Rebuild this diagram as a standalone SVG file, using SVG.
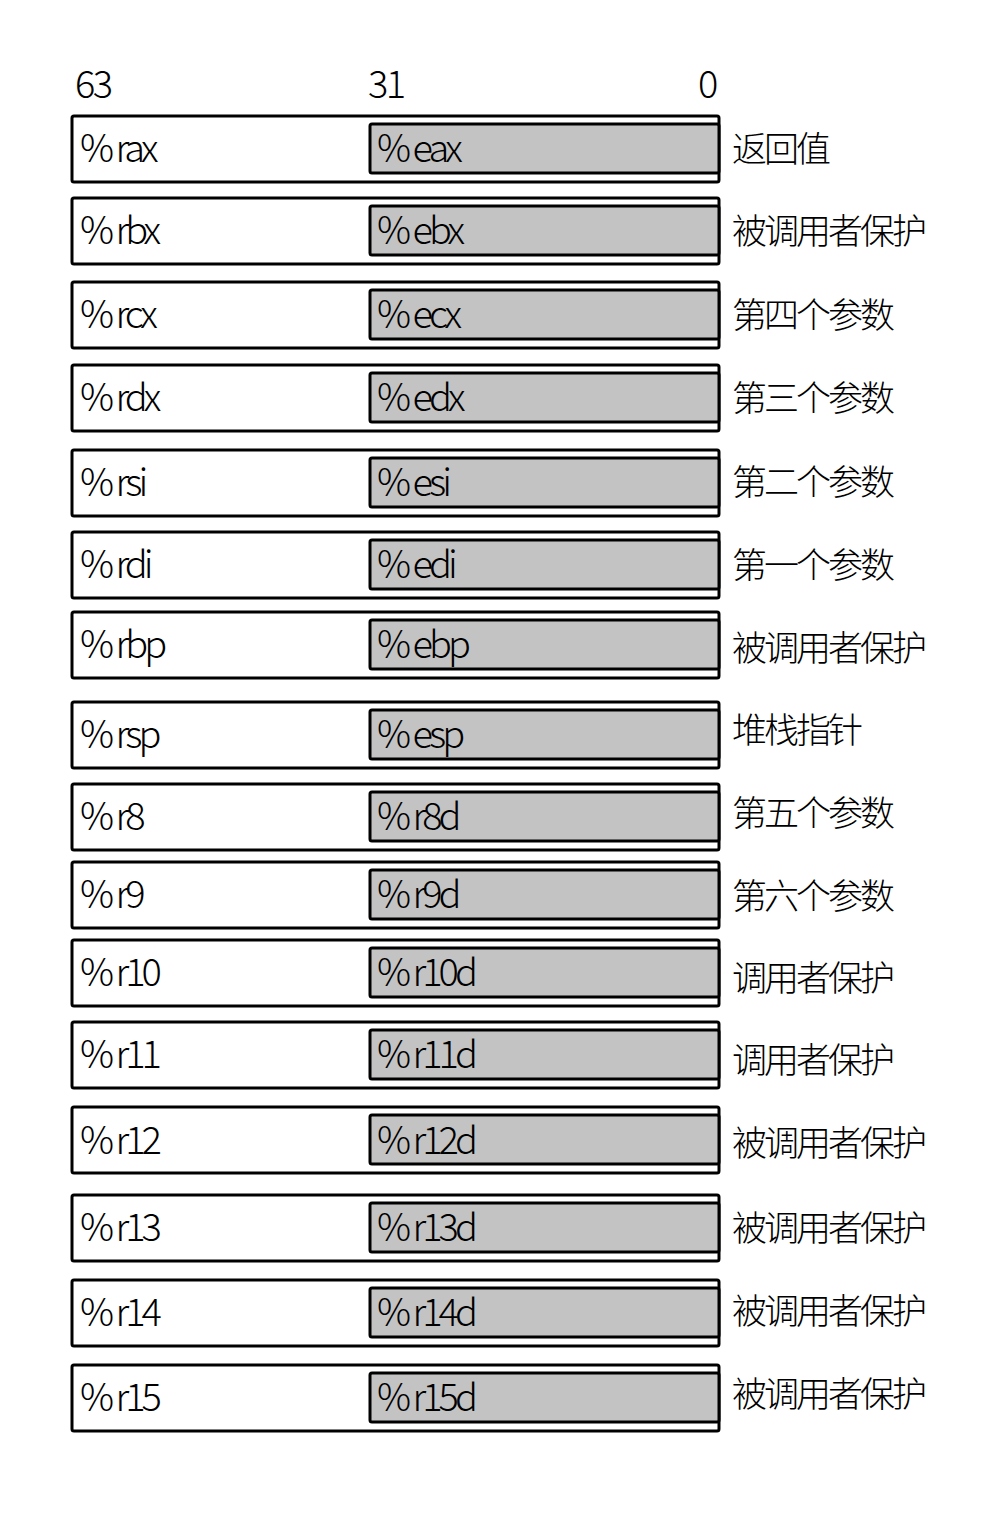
<svg xmlns="http://www.w3.org/2000/svg" width="1004" height="1520" viewBox="0 0 1004 1520">
<style>
.outer{fill:#ffffff;stroke:#000;stroke-width:3;}
.inner{fill:#c3c3c3;stroke:#000;stroke-width:3;}
.t{font-family:"Noto Sans CJK SC","Liberation Sans",sans-serif;font-size:38px;font-weight:300;fill:#000;letter-spacing:-4px;}
.p{letter-spacing:1.5px;}
.n{font-family:"Noto Sans CJK SC","Liberation Sans",sans-serif;font-size:38px;font-weight:300;fill:#000;letter-spacing:-2.5px;}
.c{font-family:"Noto Sans CJK SC","Noto Sans CJK JP",sans-serif;font-size:35px;font-weight:300;fill:#000;letter-spacing:-3px;}
</style>
<rect width="1004" height="1520" fill="#fff"/>
<g id="bits">
<text class="n" x="75" y="98">63</text>
<text class="n" x="368" y="98">31</text>
<text class="n" x="698" y="98">0</text>
</g>
<g id="rax"><rect class="outer" x="72" y="116" width="647" height="66" rx="2"/><rect class="inner" x="370" y="124" width="349" height="49" rx="2"/><text class="t" x="80" y="162"><tspan class="p">%</tspan>rax</text><text class="t" x="377" y="162"><tspan class="p">%</tspan>eax</text><text class="c" x="732" y="162">返回值</text></g>
<g id="rbx"><rect class="outer" x="72" y="198" width="647" height="66" rx="2"/><rect class="inner" x="370" y="206" width="349" height="49" rx="2"/><text class="t" x="80" y="244"><tspan class="p">%</tspan>rbx</text><text class="t" x="377" y="244"><tspan class="p">%</tspan>ebx</text><text class="c" x="732" y="244">被调用者保护</text></g>
<g id="rcx"><rect class="outer" x="72" y="282" width="647" height="66" rx="2"/><rect class="inner" x="370" y="290" width="349" height="49" rx="2"/><text class="t" x="80" y="328"><tspan class="p">%</tspan>rcx</text><text class="t" x="377" y="328"><tspan class="p">%</tspan>ecx</text><text class="c" x="732" y="328">第四个参数</text></g>
<g id="rdx"><rect class="outer" x="72" y="365" width="647" height="66" rx="2"/><rect class="inner" x="370" y="373" width="349" height="49" rx="2"/><text class="t" x="80" y="411"><tspan class="p">%</tspan>rdx</text><text class="t" x="377" y="411"><tspan class="p">%</tspan>edx</text><text class="c" x="732" y="411">第三个参数</text></g>
<g id="rsi"><rect class="outer" x="72" y="450" width="647" height="66" rx="2"/><rect class="inner" x="370" y="458" width="349" height="49" rx="2"/><text class="t" x="80" y="496"><tspan class="p">%</tspan>rsi</text><text class="t" x="377" y="496"><tspan class="p">%</tspan>esi</text><text class="c" x="732" y="495">第二个参数</text></g>
<g id="rdi"><rect class="outer" x="72" y="532" width="647" height="66" rx="2"/><rect class="inner" x="370" y="540" width="349" height="49" rx="2"/><text class="t" x="80" y="578"><tspan class="p">%</tspan>rdi</text><text class="t" x="377" y="578"><tspan class="p">%</tspan>edi</text><text class="c" x="732" y="578">第一个参数</text></g>
<g id="rbp"><rect class="outer" x="72" y="612" width="647" height="66" rx="2"/><rect class="inner" x="370" y="620" width="349" height="49" rx="2"/><text class="t" x="80" y="658"><tspan class="p">%</tspan>rbp</text><text class="t" x="377" y="658"><tspan class="p">%</tspan>ebp</text><text class="c" x="732" y="661">被调用者保护</text></g>
<g id="rsp"><rect class="outer" x="72" y="702" width="647" height="66" rx="2"/><rect class="inner" x="370" y="710" width="349" height="49" rx="2"/><text class="t" x="80" y="748"><tspan class="p">%</tspan>rsp</text><text class="t" x="377" y="748"><tspan class="p">%</tspan>esp</text><text class="c" x="732" y="743">堆栈指针</text></g>
<g id="r8"><rect class="outer" x="72" y="784" width="647" height="66" rx="2"/><rect class="inner" x="370" y="792" width="349" height="49" rx="2"/><text class="t" x="80" y="830"><tspan class="p">%</tspan>r8</text><text class="t" x="377" y="830"><tspan class="p">%</tspan>r8d</text><text class="c" x="732" y="826">第五个参数</text></g>
<g id="r9"><rect class="outer" x="72" y="862" width="647" height="66" rx="2"/><rect class="inner" x="370" y="870" width="349" height="49" rx="2"/><text class="t" x="80" y="908"><tspan class="p">%</tspan>r9</text><text class="t" x="377" y="908"><tspan class="p">%</tspan>r9d</text><text class="c" x="732" y="909">第六个参数</text></g>
<g id="r10"><rect class="outer" x="72" y="940" width="647" height="66" rx="2"/><rect class="inner" x="370" y="948" width="349" height="49" rx="2"/><text class="t" x="80" y="986"><tspan class="p">%</tspan>r10</text><text class="t" x="377" y="986"><tspan class="p">%</tspan>r10d</text><text class="c" x="732" y="991">调用者保护</text></g>
<g id="r11"><rect class="outer" x="72" y="1022" width="647" height="66" rx="2"/><rect class="inner" x="370" y="1030" width="349" height="49" rx="2"/><text class="t" x="80" y="1068"><tspan class="p">%</tspan>r11</text><text class="t" x="377" y="1068"><tspan class="p">%</tspan>r11d</text><text class="c" x="732" y="1073">调用者保护</text></g>
<g id="r12"><rect class="outer" x="72" y="1107" width="647" height="66" rx="2"/><rect class="inner" x="370" y="1115" width="349" height="49" rx="2"/><text class="t" x="80" y="1154"><tspan class="p">%</tspan>r12</text><text class="t" x="377" y="1154"><tspan class="p">%</tspan>r12d</text><text class="c" x="732" y="1156">被调用者保护</text></g>
<g id="r13"><rect class="outer" x="72" y="1195" width="647" height="66" rx="2"/><rect class="inner" x="370" y="1203" width="349" height="49" rx="2"/><text class="t" x="80" y="1241"><tspan class="p">%</tspan>r13</text><text class="t" x="377" y="1241"><tspan class="p">%</tspan>r13d</text><text class="c" x="732" y="1241">被调用者保护</text></g>
<g id="r14"><rect class="outer" x="72" y="1280" width="647" height="66" rx="2"/><rect class="inner" x="370" y="1288" width="349" height="49" rx="2"/><text class="t" x="80" y="1326"><tspan class="p">%</tspan>r14</text><text class="t" x="377" y="1326"><tspan class="p">%</tspan>r14d</text><text class="c" x="732" y="1324">被调用者保护</text></g>
<g id="r15"><rect class="outer" x="72" y="1365" width="647" height="66" rx="2"/><rect class="inner" x="370" y="1373" width="349" height="49" rx="2"/><text class="t" x="80" y="1411"><tspan class="p">%</tspan>r15</text><text class="t" x="377" y="1411"><tspan class="p">%</tspan>r15d</text><text class="c" x="732" y="1407">被调用者保护</text></g>
</svg>
